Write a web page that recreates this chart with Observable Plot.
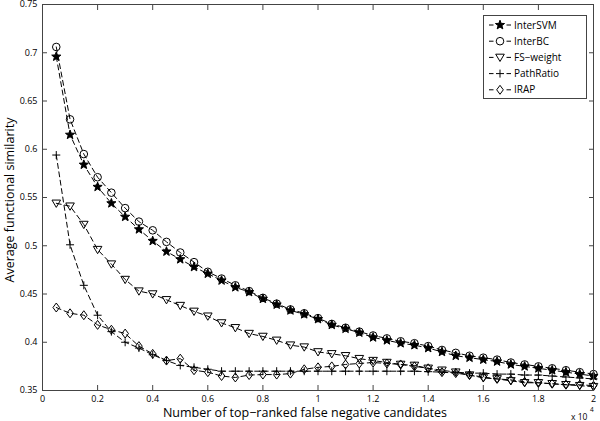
<!DOCTYPE html>
<html>
<head>
<meta charset="utf-8">
<script src="https://cdn.jsdelivr.net/npm/d3@7"></script>
<script src="https://cdn.jsdelivr.net/npm/@observablehq/plot@0.6"></script>
<style>
  body { margin: 0; padding: 0; background: white; }
  #chart svg { display: block; }
</style>
</head>
<body>
<div id="chart"></div>
<script>
// ---- data ----
const xValues = [500,1000,1500,2000,2500,3000,3500,4000,4500,5000,5500,6000,6500,7000,7500,8000,8500,9000,9500,10000,
                 10500,11000,11500,12000,12500,13000,13500,14000,14500,15000,15500,16000,16500,17000,17500,18000,18500,19000,19500,20000];
const interSVM = [0.696,0.615,0.584,0.561,0.544,0.530,0.517,0.505,0.494,0.486,0.478,0.471,0.464,0.457,0.452,0.445,0.439,0.433,0.429,0.424,
                  0.418,0.414,0.410,0.405,0.402,0.399,0.397,0.394,0.390,0.386,0.384,0.382,0.380,0.377,0.375,0.373,0.371,0.369,0.367,0.365];
const interBC  = [0.706,0.631,0.595,0.571,0.555,0.539,0.525,0.516,0.504,0.493,0.483,0.473,0.466,0.459,0.453,0.446,0.440,0.434,0.430,0.425,
                  0.419,0.415,0.411,0.407,0.404,0.401,0.399,0.396,0.392,0.389,0.386,0.384,0.382,0.379,0.377,0.375,0.373,0.371,0.369,0.367];
const fsWeight = [0.544,0.541,0.522,0.496,0.481,0.465,0.453,0.450,0.444,0.438,0.432,0.427,0.420,0.415,0.409,0.406,0.402,0.397,0.395,0.390,
                  0.388,0.386,0.383,0.381,0.379,0.377,0.376,0.373,0.371,0.369,0.366,0.363,0.362,0.360,0.358,0.358,0.357,0.356,0.355,0.354];
const pathRatio = [0.594,0.501,0.459,0.428,0.411,0.400,0.394,0.387,0.381,0.376,0.374,0.372,0.370,0.370,0.370,0.370,0.370,0.370,0.370,0.370,
                   0.370,0.370,0.370,0.370,0.370,0.370,0.370,0.3695,0.369,0.369,0.368,0.368,0.367,0.367,0.366,0.366,0.365,0.364,0.363,0.362];
const irap     = [0.436,0.430,0.428,0.418,0.413,0.409,0.396,0.388,0.381,0.383,0.371,0.369,0.365,0.3635,0.366,0.3665,0.3665,0.3675,0.372,0.374,
                  0.375,0.377,0.378,0.379,0.378,0.377,0.375,0.373,0.369,0.368,0.366,0.364,0.362,0.361,0.359,0.358,0.357,0.356,0.356,0.355];
const seriesNames = ["InterSVM","InterBC","FS\u2212weight","PathRatio","IRAP"];
const xTicks = [0,2000,4000,6000,8000,10000,12000,14000,16000,18000,20000];
const yTicks = [0.35,0.4,0.45,0.5,0.55,0.6,0.65,0.7,0.75];

// ---- symbols ----
const R = s => Math.sqrt(s / Math.PI);
const symStar = {draw(ctx, size) {
  const r = R(size), ri = r * 0.42;
  for (let i = 0; i < 10; i++) {
    const a = -Math.PI / 2 + i * Math.PI / 5, rr = i % 2 ? ri : r;
    const px = rr * Math.cos(a), py = rr * Math.sin(a);
    i ? ctx.lineTo(px, py) : ctx.moveTo(px, py);
  }
  ctx.closePath();
}};
const symCircle = {draw(ctx, size) { const r = R(size); ctx.moveTo(r, 0); ctx.arc(0, 0, r, 0, 2 * Math.PI); }};
const symTriDown = {draw(ctx, size) { const r = R(size); ctx.moveTo(-r, -0.75 * r); ctx.lineTo(r, -0.75 * r); ctx.lineTo(0, 0.95 * r); ctx.closePath(); }};
const symPlus = {draw(ctx, size) { const r = R(size); ctx.moveTo(-r, 0); ctx.lineTo(r, 0); ctx.moveTo(0, -r); ctx.lineTo(0, r); }};
const symDiamond = {draw(ctx, size) { const r = R(size); ctx.moveTo(0, -1.15 * r); ctx.lineTo(0.85 * r, 0); ctx.lineTo(0, 1.15 * r); ctx.lineTo(-0.85 * r, 0); ctx.closePath(); }};

const seriesDefs = [
  {name: seriesNames[0], values: interSVM, symbol: symStar, r: 4.8, fill: "black"},
  {name: seriesNames[1], values: interBC, symbol: symCircle, r: 3.8, fill: "none"},
  {name: seriesNames[2], values: fsWeight, symbol: symTriDown, r: 4.3, fill: "none"},
  {name: seriesNames[3], values: pathRatio, symbol: symPlus, r: 4.0, fill: "none"},
  {name: seriesNames[4], values: irap, symbol: symDiamond, r: 3.9, fill: "none"}
];

const fmtX = d => String(+(d / 1e4).toFixed(1));
const fmtY = d => String(+d.toFixed(2));
const axisColor = "#444";

const marks = [
  Plot.axisX({ticks: xTicks, tickSize: 0, tickPadding: 5, tickFormat: fmtX, label: null, fill: "black"}),
  Plot.axisX({ticks: xTicks, tickSize: -5, fill: "none", label: null, stroke: axisColor}),
  Plot.axisX({ticks: xTicks, anchor: "top", tickSize: -5, fill: "none", label: null, stroke: axisColor}),
  Plot.axisY({ticks: yTicks, tickSize: 0, tickPadding: 5, tickFormat: fmtY, label: null, fill: "black"}),
  Plot.axisY({ticks: yTicks, tickSize: -5, fill: "none", label: null, stroke: axisColor}),
  Plot.axisY({ticks: yTicks, anchor: "right", tickSize: -5, fill: "none", label: null, stroke: axisColor})
];
for (const s of seriesDefs) {
  const data = xValues.map((x, i) => ({x, y: s.values[i]}));
  marks.push(Plot.line(data, {x: "x", y: "y", stroke: "black", strokeWidth: 1, strokeDasharray: "5,3.5"}));
  marks.push(Plot.dot(data, {x: "x", y: "y", symbol: s.symbol, r: s.r, fill: s.fill, stroke: "black", strokeWidth: 1}));
}
marks.push(Plot.frame({stroke: axisColor, strokeWidth: 1}));

const chart = Plot.plot({
  width: 600, height: 421,
  marginLeft: 42, marginRight: 7, marginTop: 4, marginBottom: 31,
  x: {domain: [0, 20000]},
  y: {domain: [0.35, 0.75]},
  style: {fontFamily: "'Open Sans', sans-serif", fontSize: "9px", background: "white", color: "black"},
  marks
});
document.getElementById("chart").appendChild(chart);

// ---- annotations: axis labels, multiplier, legend ----
const svg = d3.select(chart);
const font = "'Open Sans', sans-serif";
svg.append("text").attr("x", 305).attr("y", 416.8).attr("text-anchor", "middle")
  .attr("font-family", font).attr("font-size", 12.5).attr("fill", "black")
  .text("Number of top\u2212ranked false negative candidates");
svg.append("text").attr("transform", "translate(14,200) rotate(-90)").attr("text-anchor", "middle")
  .attr("font-family", font).attr("font-size", 12.5).attr("fill", "black")
  .text("Average functional similarity");
svg.append("text").attr("x", 571).attr("y", 419.5).attr("text-anchor", "start").attr("font-family", font).attr("font-size", 8.5).attr("fill", "black").text("x 10");
svg.append("text").attr("x", 590).attr("y", 412).attr("text-anchor", "start").attr("font-family", font).attr("font-size", 6.5).attr("fill", "black").text("4");

const lg = svg.append("g");
lg.append("rect").attr("x", 483.5).attr("y", 15.5).attr("width", 103).attr("height", 83)
  .attr("fill", "white").attr("stroke", axisColor).attr("stroke-width", 1);
seriesDefs.forEach((s, i) => {
  const cy = 25 + i * 16.2;
  lg.append("path").attr("d", `M489,${cy}H511`).attr("stroke", "black").attr("stroke-width", 1)
    .attr("stroke-dasharray", "4.5,13,4.5").attr("fill", "none");
  lg.append("path").attr("transform", `translate(500,${cy})`)
    .attr("d", d3.symbol(s.symbol, Math.PI * s.r * s.r)())
    .attr("fill", s.fill).attr("stroke", "black").attr("stroke-width", 1);
  lg.append("text").attr("x", 514).attr("y", cy + 3.6).attr("text-anchor", "start").attr("font-family", font).attr("font-size", 10)
    .attr("fill", "black").text(s.name);
});
</script>
</body>
</html>
